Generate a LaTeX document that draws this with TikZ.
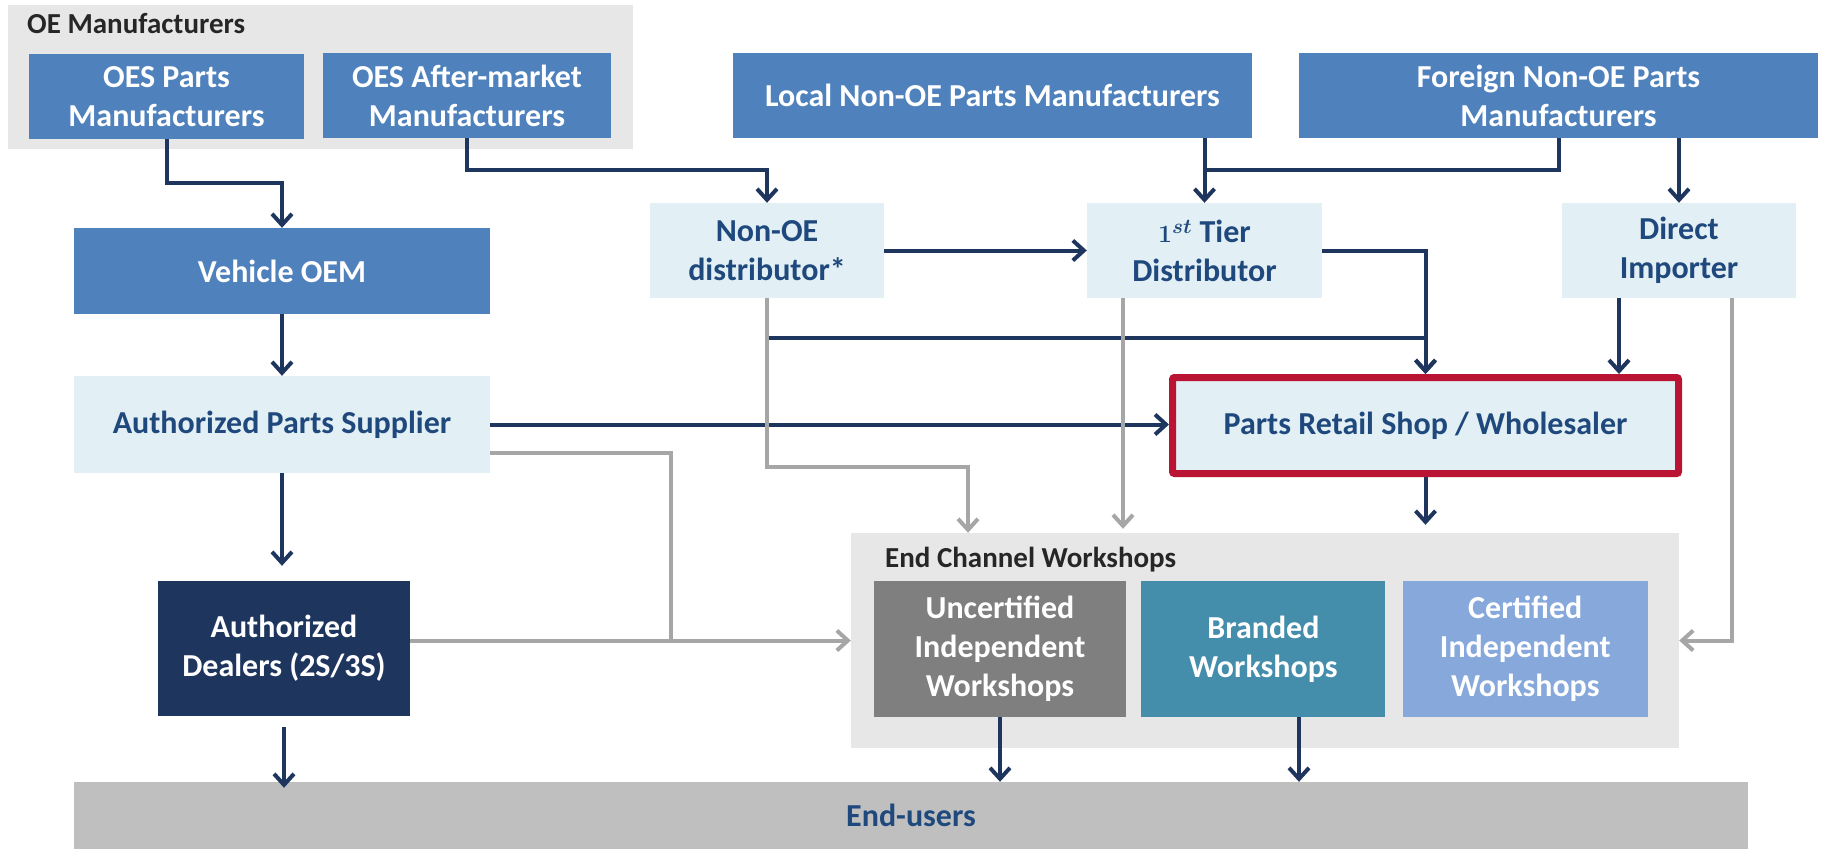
\documentclass[tikz,border=0pt]{standalone}
\usepackage{fontspec}
\setmainfont{Carlito}
\usetikzlibrary{arrows.meta,positioning}

\definecolor{oeblue}{RGB}{79,129,189}
\definecolor{paleblue}{RGB}{226,239,244}
\definecolor{navy}{RGB}{30,54,94}
\definecolor{textblue}{RGB}{31,73,125}
\definecolor{panelgray}{RGB}{231,231,231}
\definecolor{labelgray}{RGB}{38,38,38}
\definecolor{linegray}{RGB}{166,166,166}
\definecolor{shopred}{RGB}{186,20,52}
\definecolor{uncgray}{RGB}{127,127,127}
\definecolor{brandteal}{RGB}{68,142,172}
\definecolor{certblue}{RGB}{134,168,219}
\definecolor{usergray}{RGB}{191,191,191}

\begin{document}
\begin{tikzpicture}[x=1pt, y=-1pt, >={Straight Barb[length=11pt,width=20pt]},
  font=\fontsize{32}{39}\selectfont\bfseries]
\tikzstyle{every node}=[inner sep=0pt, align=center]
\tikzstyle{mfr}=[fill=oeblue, text=white]
\tikzstyle{dist}=[fill=paleblue, text=textblue]
\tikzstyle{panel}=[fill=panelgray]
\tikzstyle{paneltitle}=[anchor=west, text=labelgray, font=\fontsize{29}{35}\selectfont\bfseries]
\tikzstyle{shop}=[text=white, minimum height=136pt]
\tikzstyle{link}=[->, draw=navy, line width=4pt]
\tikzstyle{glink}=[->, draw=linegray, line width=4pt]
\useasboundingbox (0,0) rectangle (1821,849);

% groups
\node[panel, minimum width=625pt, minimum height=144pt] (oegrp) at (320.5,77) {};
\node[paneltitle] (oetitle) at (27,24) {OE Manufacturers};
\node[panel, minimum width=828pt, minimum height=215pt] (ecw) at (1265,640.5) {};
\node[paneltitle] (ecwtitle) at (885,560) {End Channel Workshops};

% manufacturers
\node[mfr, minimum width=275pt, minimum height=85pt] (oespm) at (166.5,96.5) {OES Parts\\Manufacturers};
\node[mfr, minimum width=288pt, minimum height=85pt] (oesam) at (467,95.5) {OES After-market\\Manufacturers};
\node[mfr, minimum width=519pt, minimum height=85pt] (localm) at (992.5,95.5) {Local Non-OE Parts Manufacturers};
\node[mfr, minimum width=519pt, minimum height=85pt] (foreignm) at (1558.5,95.5) {Foreign Non-OE Parts\\Manufacturers};
\node[mfr, minimum width=416pt, minimum height=86pt] (oem) at (282,271) {Vehicle OEM};

% distribution
\node[dist, minimum width=234pt, minimum height=95pt] (nonoe) at (767,250.5) {Non-OE\\distributor*};
\node[dist, minimum width=235pt, minimum height=95pt] (tier1) at (1204.5,250.5) {{\boldmath$1^{st}$} Tier\\Distributor};
\node[dist, minimum width=234pt, minimum height=95pt] (direct) at (1679,250.5) {Direct\\Importer};
\node[dist, minimum width=416pt, minimum height=97pt] (aps) at (282,424.5) {Authorized Parts Supplier};
\node[dist, draw=shopred, line width=7pt, rounded corners=2pt,
  minimum width=506pt, minimum height=96pt] (retail) at (1425.5,425.5) {Parts Retail Shop / Wholesaler};
\node[fill=navy, text=white, minimum width=252pt, minimum height=135pt] (dealers) at (284,648.5) {Authorized\\Dealers (2S/3S)};

% workshops
\node[shop, fill=uncgray, minimum width=252pt] (uncert) at (1000,649) {Uncertified\\Independent\\Workshops};
\node[shop, fill=brandteal, minimum width=244pt, right=15pt of uncert] (branded) {Branded\\Workshops};
\node[shop, fill=certblue, minimum width=245pt, right=17pt of branded] (cert) {Certified\\Independent\\Workshops};

\node[fill=usergray, text=textblue, minimum width=1674pt, minimum height=67pt] (users) at (911,815.5) {End-users};

% rows and columns for the bends
\coordinate (r1) at (0,183);
\coordinate (r2) at (0,170);
\coordinate (r3) at (0,338);
\coordinate (r4) at (0,467);
\coordinate (r5) at (0,453);
\coordinate (c1) at (671,0);
\coordinate (c2) at (968,0);
\coordinate (c3) at (1123,0);
\coordinate (c4) at (1619,0);
\coordinate (c5) at (1732,0);
\coordinate (c6) at (1299,0);

% genuine parts flow
\draw[link] (oespm.south) |- (oem.north |- r1) -- (oem.north);
\draw[link] (oem) -- (aps);
\draw[link, shorten >=15pt] (aps.south) -- (aps.south |- dealers.north);
\draw[link] (aps.east) -- (aps.east -| retail.west);
\draw[link, shorten <=11pt, shorten >=-6pt] (dealers.south) -- (dealers.south |- users.north);

% non-OE flow
\draw[link] (oesam.south) |- (nonoe.north |- r2) -- (nonoe.north);
\draw[link] (localm.south -| tier1.north) -- (tier1.north);
\draw[-, draw=navy, line width=4pt] (foreignm.south) |- (tier1.north |- r2);
\draw[link] (foreignm.south -| direct.north) -- (direct.north);
\draw[link] (nonoe) -- (tier1);
\draw[link] (tier1.east) -| (retail.north);
\draw[link] (nonoe.south) |- (retail.north |- r3) -- (retail.north);
\draw[link] (direct.south -| c4) -- (retail.north -| c4);
\draw[link, shorten >=8pt] (retail.south) -- (retail.south |- ecw.north);

% into the workshops
\draw[glink] (nonoe.south) |- (c2 |- r4) -- (c2 |- ecw.north);
\draw[glink, shorten >=4pt] (tier1.south -| c3) -- (c3 |- ecw.north);
\draw[-, draw=linegray, line width=4pt] (aps.east |- r5) -| (c1 |- ecw.west);
\draw[glink] (dealers.east |- ecw.west) -- (ecw.west);
\draw[glink] (direct.south -| c5) |- (ecw.east);

% to the end-users
\draw[link] (uncert.south) -- (uncert.south |- users.north);
\draw[link] (branded.south -| c6) -- (c6 |- users.north);
\end{tikzpicture}
\end{document}
